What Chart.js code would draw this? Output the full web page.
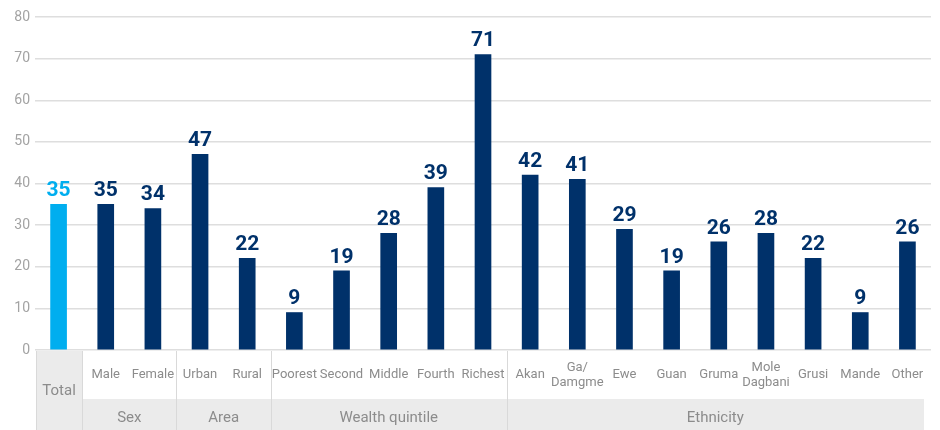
<!DOCTYPE html>
<html>
<head>
<meta charset="utf-8">
<script src="https://cdn.jsdelivr.net/npm/chart.js@4"></script>
<style>
  html, body { margin: 0; padding: 0; background: #fff; }
  #wrap { width: 940px; height: 430px; position: relative; }
</style>
</head>
<body>
<div id="wrap"><canvas id="chart"></canvas></div>
<script>
// data
const categories = ['Total', 'Male', 'Female', 'Urban', 'Rural', 'Poorest', 'Second', 'Middle', 'Fourth', 'Richest',
  'Akan', ['Ga/', 'Damgme'], 'Ewe', 'Guan', 'Gruma', ['Mole', 'Dagbani'], 'Grusi', 'Mande', 'Other'];
const values = [35, 35, 34, 47, 22, 9, 19, 28, 39, 71, 42, 41, 29, 19, 26, 28, 22, 9, 26];
const groupNames = ['Sex', 'Area', 'Wealth quintile', 'Ethnicity'];
const groupSizes = [2, 2, 5, 9];
const yTicks = [0, 10, 20, 30, 40, 50, 60, 70, 80];

const lightBlue = '#00aeef';
const navy = '#00316a';
const barColors = values.map((v, i) => i === 0 ? lightBlue : navy);

const ctx = document.getElementById('chart').getContext('2d');

// value labels over the bars
const valueLabels = {
  id: 'valueLabels',
  afterDatasetsDraw(chart) {
    const c = chart.ctx;
    const meta = chart.getDatasetMeta(0);
    c.save();
    c.font = 'bold 21px Roboto';
    c.textAlign = 'center';
    c.textBaseline = 'bottom';
    meta.data.forEach((bar, i) => {
      c.fillStyle = barColors[i];
      c.fillText(values[i], bar.x, bar.y - 3);
    });
    c.restore();
  }
};

// the table of categories and groups under the bars
const tableBelow = {
  id: 'tableBelow',
  afterDraw(chart) {
    const c = chart.ctx;
    const x = chart.scales.x;
    const area = chart.chartArea;
    const top = area.bottom + 1;
    const bottom = 430;
    const rowSplit = 399;
    const left = area.left + 1;
    const right = 924;
    const mid = (i) => (x.getPixelForValue(i) + x.getPixelForValue(i + 1)) / 2;

    c.save();
    c.fillStyle = '#ebebeb';
    // Total cell spans both rows
    const totalEnd = mid(0);
    c.fillRect(left, top, totalEnd - left, bottom - top);
    // group row
    c.fillRect(totalEnd, rowSplit, right - totalEnd, bottom - rowSplit);

    c.strokeStyle = '#d9d9d9';
    c.lineWidth = 1;
    c.beginPath();
    c.moveTo(left + 0.5, top);
    c.lineTo(left + 0.5, bottom);
    let idx = 1;
    const seps = [totalEnd];
    groupSizes.forEach((n, g) => {
      idx += n;
      if (idx < categories.length) seps.push(mid(idx - 1));
    });
    seps.forEach(s => {
      const sx = Math.round(s) + 0.5;
      c.moveTo(sx, top);
      c.lineTo(sx, bottom);
    });
    c.stroke();

    c.fillStyle = '#8c8c8c';
    c.textAlign = 'center';
    c.textBaseline = 'middle';
    c.font = '15px Roboto';
    c.fillText(categories[0], (left + totalEnd) / 2, 391);

    c.font = '13px Roboto';
    categories.forEach((lab, i) => {
      if (i === 0) return;
      const px = x.getPixelForValue(i);
      if (Array.isArray(lab)) {
        c.fillText(lab[0], px, 368);
        c.fillText(lab[1], px, 383);
      } else {
        c.fillText(lab, px, 375);
      }
    });

    c.font = '15px Roboto';
    let start = 1;
    groupNames.forEach((name, g) => {
      const a = g === 0 ? totalEnd : mid(start - 1);
      const end = start + groupSizes[g];
      const b = end >= categories.length ? right : mid(end - 1);
      c.fillText(name, (a + b) / 2, 418);
      start = end;
    });
    c.restore();
  }
};

new Chart(ctx, {
  type: 'bar',
  data: {
    labels: categories,
    datasets: [{
      data: values,
      backgroundColor: barColors,
      barThickness: 16
    }]
  },
  options: {
    responsive: true,
    maintainAspectRatio: false,
    animation: false,
    layout: { padding: { top: 17, right: 9, bottom: 80, left: 0 } },
    plugins: {
      legend: { display: false },
      tooltip: { enabled: false }
    },
    scales: {
      x: {
        display: false
      },
      y: {
        min: 0,
        max: 80,
        afterFit(scale) { scale.width = 35; },
        afterBuildTicks(scale) { scale.ticks = yTicks.map(v => ({ value: v })); },
        border: { display: false },
        grid: { color: '#dedede', lineWidth: 1.5, drawTicks: false },
        ticks: {
          padding: 5,
          color: '#a3a3a3',
          font: { family: 'Roboto', size: 14 }
        }
      }
    }
  },
  plugins: [valueLabels, tableBelow]
});
</script>
</body>
</html>
